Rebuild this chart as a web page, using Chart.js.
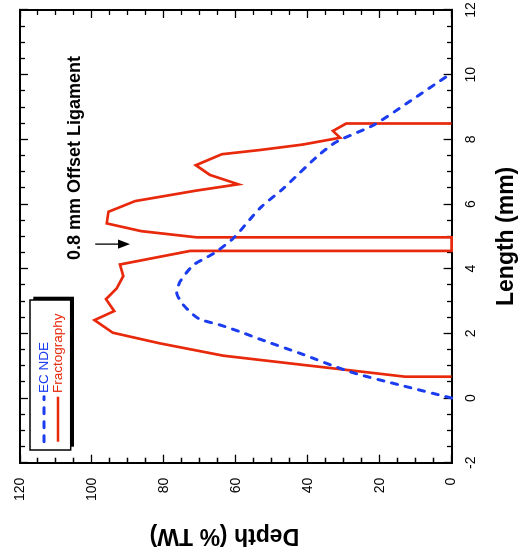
<!DOCTYPE html>
<html>
<head>
<meta charset="utf-8">
<title>EC NDE vs Fractography depth profile</title>
<script src="https://cdn.jsdelivr.net/npm/chart.js"></script>
<style>
  html, body { margin: 0; padding: 0; background: #fff; }
  #wrap { position: relative; width: 529px; height: 557px; overflow: hidden; background: #fff; }
  /* the plot is laid out landscape and turned a quarter turn counter-clockwise */
  #plot { position: absolute; left: 0; top: 0; transform-origin: 0 0; transform: translateY(557px) rotate(-90deg); }
</style>
</head>
<body>
<div id="wrap"><canvas id="plot" width="557" height="529"></canvas></div>
<script>
// Fractography profile: length along the weld (mm) and depth (% through-wall)
const fractoLength = [0.66, 0.66, 1.31, 1.69, 2.02, 2.41, 2.69, 3.06, 3.39, 3.77, 4.13, 4.55, 4.55, 4.97, 4.97,
                      5.16, 5.40, 5.76, 6.09, 6.41, 6.61, 6.90, 7.20, 7.54, 7.67, 7.84, 8.05, 8.26, 8.49, 8.49];
const fractoDepth  = [0, 12.9, 63.5, 81.1, 94.2, 99.3, 93.8, 96.1, 93.1, 91.3, 92.2, 72.7, 0, 0, 70.9,
                      86.2, 95.9, 95.4, 88.0, 71.3, 59.3, 67.2, 71.1, 63.9, 53.3, 41.3, 31.0, 33.0, 29.3, 0];

// Eddy-current NDE sizing profile
const ecLength = [0, 0.40, 0.81, 1.38, 1.82, 2.05, 2.26, 2.46, 2.88, 3.24, 3.60, 4.11, 4.47, 4.94,
                  5.87, 6.48, 7.46, 7.93, 8.44, 9.11, 10.05];
const ecDepth  = [0, 14.3, 28.2, 42.1, 53.3, 58.8, 64.4, 70.4, 74.6, 76.4, 75.5, 71.8, 66.2, 60.7,
                  53.3, 46.8, 37.5, 31.9, 21.7, 12.5, 0];

const seriesNames = ['EC NDE', 'Fractography'];
const lengthLabels = [-2, 0, 2, 4, 6, 8, 10, 12];
const depthLabels = [0, 20, 40, 60, 80, 100, 120];

const noteText = '0.8 mm Offset Ligament';
const noteAnchor = [4.27, 103.45];      // length, depth of the text start / baseline
const arrowAt = [4.76, 99.1, 89.4];     // length, tail depth, tip depth

const FONT = "'Liberation Sans', Arial, Helvetica, sans-serif";
const RED = '#e8290b';
const BLUE = '#1c3cf0';

const toPoints = (xs, ys) => xs.map((x, i) => ({ x: x, y: ys[i] }));
const isLabelled = (v, list) => list.some(l => Math.abs(l - v) < 1e-9);

// one framed edge with inward ticks; long ticks at the labelled values
function edgeScale(axis, position, min, max, step, labels, showLabels, dashStartsInside, fitSize) {
  const shortDash = dashStartsInside ? [0, 3, 6, 100] : [6, 100];
  return {
    type: 'linear',
    axis: axis,
    position: position,
    min: min,
    max: max,
    afterFit: (s) => {
      if (s.isHorizontal()) s.height = fitSize; else s.width = fitSize;
      // the frame is placed by the layout padding alone
      s.paddingLeft = s.paddingRight = s.paddingTop = s.paddingBottom = 0;
    },
    border: { display: true, color: '#000', width: 2 },
    grid: {
      display: true,
      drawOnChartArea: false,
      drawTicks: true,
      tickLength: -8,
      tickWidth: 1.3,
      tickColor: '#000',
      tickBorderDash: (c) => (c.tick && isLabelled(c.tick.value, labels)) ? [] : shortDash
    },
    ticks: {
      display: showLabels,
      stepSize: step,
      autoSkip: false,
      maxRotation: 0,
      minRotation: 0,
      color: '#000',
      font: { family: FONT, size: 14 },
      callback: (v) => isLabelled(v, labels) ? String(v) : ''
    }
  };
}

const xBottom = edgeScale('x', 'bottom', -2, 12, 0.5, lengthLabels, true, false, 77.4);
xBottom.ticks.padding = 19;
xBottom.weight = 1;
xBottom.title = { display: true, text: 'Length (mm)', color: '#000',
                  font: { family: FONT, size: 23, weight: 'bold' }, padding: { top: 0, bottom: 9 } };

const yLeft = edgeScale('y', 'left', 0, 120, 5, depthLabels, true, true, 94.3);
yLeft.ticks.padding = 23;
yLeft.weight = 1;

const xTop = edgeScale('x', 'top', -2, 12, 0.5, lengthLabels, false, true, 0);
const yRight = edgeScale('y', 'right', 0, 120, 5, depthLabels, false, false, 0);

// depth title, legend box with drop shadow, ligament note and arrow
const decorations = {
  id: 'decorations',
  afterDraw(chart) {
    const ctx = chart.ctx;
    const a = chart.chartArea;
    const sx = chart.scales.x, sy = chart.scales.y;

    ctx.save();
    ctx.font = `bold 23px ${FONT}`;
    ctx.fillStyle = '#000';
    ctx.textAlign = 'center';
    ctx.textBaseline = 'middle';
    ctx.translate(21.5, (a.top + a.bottom) / 2 - 11.4);
    ctx.rotate(-Math.PI / 2);
    ctx.fillText('Depth (% TW)', 0, 0);
    ctx.restore();

    // legend
    ctx.save();
    const bx = a.left + 12.7, by = a.top + 10, bw = 150, bh = 40.7, sh = 3.3;
    ctx.fillStyle = '#000';
    ctx.fillRect(bx + sh, by + sh, bw, bh);
    ctx.fillStyle = '#fff';
    ctx.fillRect(bx, by, bw, bh);
    ctx.lineWidth = 1.5;
    ctx.strokeStyle = '#000';
    ctx.strokeRect(bx, by, bw, bh);
    chart.data.datasets.forEach((ds, i) => {
      const cy = by + 14 + i * 14;
      ctx.beginPath();
      ctx.setLineDash(ds.borderDash || []);
      ctx.lineCap = ds.borderCapStyle || 'butt';
      ctx.lineWidth = ds.borderWidth;
      ctx.strokeStyle = ds.borderColor;
      ctx.moveTo(bx + 8.3, cy);
      ctx.lineTo(bx + 53.3, cy);
      ctx.stroke();
      ctx.setLineDash([]);
      ctx.fillStyle = ds.borderColor;
      ctx.font = `13.5px ${FONT}`;
      ctx.textAlign = 'left';
      ctx.textBaseline = 'middle';
      ctx.fillText(ds.label, bx + 57, cy);
    });
    ctx.restore();

    // note and arrow
    ctx.save();
    ctx.fillStyle = '#000';
    ctx.font = `bold 18px ${FONT}`;
    ctx.textAlign = 'left';
    ctx.textBaseline = 'alphabetic';
    ctx.fillText(noteText, sx.getPixelForValue(noteAnchor[0]), sy.getPixelForValue(noteAnchor[1]));
    const ax = sx.getPixelForValue(arrowAt[0]);
    const y0 = sy.getPixelForValue(arrowAt[1]);
    const y1 = sy.getPixelForValue(arrowAt[2]);
    ctx.strokeStyle = '#000';
    ctx.lineWidth = 1.3;
    ctx.beginPath();
    ctx.moveTo(ax, y0);
    ctx.lineTo(ax, y1 - 8);
    ctx.stroke();
    ctx.beginPath();
    ctx.moveTo(ax, y1);
    ctx.lineTo(ax - 4.6, y1 - 12);
    ctx.lineTo(ax + 4.6, y1 - 12);
    ctx.closePath();
    ctx.fill();
    ctx.restore();
  }
};

new Chart(document.getElementById('plot'), {
  type: 'scatter',
  data: {
    datasets: [
      {
        label: seriesNames[0],
        data: toPoints(ecLength, ecDepth),
        showLine: true,
        borderColor: BLUE,
        backgroundColor: BLUE,
        borderWidth: 3,
        borderDash: [6, 8],
        borderCapStyle: 'round',
        tension: 0.25,
        pointRadius: 0,
        fill: false,
        clip: false
      },
      {
        label: seriesNames[1],
        data: toPoints(fractoLength, fractoDepth),
        showLine: true,
        borderColor: RED,
        backgroundColor: RED,
        borderWidth: 2.7,
        borderJoinStyle: 'miter',
        tension: 0,
        pointRadius: 0,
        fill: false,
        clip: false
      }
    ]
  },
  options: {
    responsive: false,
    devicePixelRatio: 1,
    animation: false,
    events: [],
    layout: { autoPadding: false, padding: { top: 20, right: 10, left: 0, bottom: 0 } },
    plugins: { legend: { display: false }, tooltip: { enabled: false } },
    scales: { x: xBottom, y: yLeft, x2: xTop, y2: yRight }
  },
  plugins: [decorations]
});
</script>
</body>
</html>
